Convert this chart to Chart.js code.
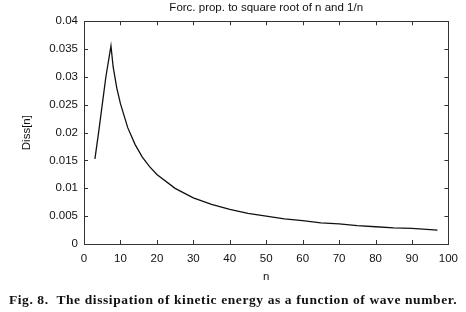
<!DOCTYPE html>
<html>
<head>
<meta charset="utf-8">
<script src="https://cdn.jsdelivr.net/npm/chart.js@4.4.0/dist/chart.umd.min.js"></script>
<style>
  html, body { margin: 0; padding: 0; background: #fff; }
  #wrap { width: 466px; height: 312px; position: relative; }
  #caption {
    position: absolute; left: 0; top: 292px; width: 466px; height: 16px;
    line-height: 16px; text-align: center; color: #111;
    font: bold 13.5px "Liberation Serif", "DejaVu Serif", serif;
    letter-spacing: 0.6px; white-space: pre;
  }
</style>
</head>
<body>
<div id="wrap"><canvas id="diss"></canvas><div id="caption"></div></div>
<script>
// 读图得到的数据
const nValues = [3, 4, 5, 6, 7.4, 8, 9, 10, 12, 14, 16, 18, 20, 25, 30, 35, 40, 45, 50, 55, 60, 65, 70, 75, 80, 85, 90, 95, 97];
const dissValues = [0.0153, 0.0200, 0.0250, 0.0300, 0.0356, 0.0318, 0.0280, 0.0252, 0.0209, 0.0179, 0.0156, 0.0139, 0.0125, 0.0100, 0.0083, 0.0071, 0.0062, 0.0055, 0.0050, 0.0045, 0.0042, 0.0038, 0.0036, 0.0033, 0.0031, 0.0029, 0.0028, 0.0026, 0.0025];
const xTicks = [0, 10, 20, 30, 40, 50, 60, 70, 80, 90, 100];
const yTicks = [0, 0.005, 0.01, 0.015, 0.02, 0.025, 0.03, 0.035, 0.04];

const titleText = 'Forc. prop. to square root of n and 1/n';
const captionText = 'Fig. 8.  The dissipation of kinetic energy as a function of wave number.';

const sansFont = '"Liberation Sans", Arial, sans-serif';

document.getElementById('caption').textContent = captionText;

// 画边框和向内的刻度（gnuplot 风格）
const frameTicks = {
    id: 'frameTicks',
    afterDatasetsDraw(chart) {
        const { ctx, chartArea: a, scales } = chart;
        const len = 4;
        ctx.save();
        ctx.strokeStyle = '#333';
        ctx.lineWidth = 1;
        ctx.beginPath();
        scales.x.ticks.forEach(t => {
            const px = Math.round(scales.x.getPixelForValue(t.value)) + 0.5;
            ctx.moveTo(px, a.bottom); ctx.lineTo(px, a.bottom - len);
            ctx.moveTo(px, a.top); ctx.lineTo(px, a.top + len);
        });
        scales.y.ticks.forEach(t => {
            const py = Math.round(scales.y.getPixelForValue(t.value)) + 0.5;
            ctx.moveTo(a.left, py); ctx.lineTo(a.left + len, py);
            ctx.moveTo(a.right, py); ctx.lineTo(a.right - len, py);
        });
        ctx.stroke();
        ctx.strokeRect(Math.round(a.left) + 0.5, Math.round(a.top) + 0.5,
            Math.round(a.right - a.left), Math.round(a.bottom - a.top));
        ctx.restore();
    }
};

const ctx = document.getElementById('diss').getContext('2d');
new Chart(ctx, {
    type: 'line',
    data: {
        datasets: [{
            data: nValues.map((n, i) => ({ x: n, y: dissValues[i] })),
            borderColor: '#111',
            borderWidth: 1.3,
            pointRadius: 0,
            tension: 0,
            fill: false
        }]
    },
    options: {
        responsive: true,
        maintainAspectRatio: false,
        animation: false,
        layout: { padding: { left: 0, right: 15, top: 0, bottom: 28 } },
        plugins: {
            legend: { display: false },
            tooltip: { enabled: false },
            title: {
                display: true,
                text: titleText,
                fullSize: false,
                color: '#111',
                font: { family: sansFont, size: 11.5, weight: 'normal' },
                padding: { top: 1, bottom: 6.5 }
            }
        },
        scales: {
            x: {
                type: 'linear',
                min: xTicks[0],
                max: xTicks[xTicks.length - 1],
                afterBuildTicks: s => { s.ticks = xTicks.map(v => ({ value: v })); },
                afterFit: s => { s.height = 40; },
                grid: { display: false, drawTicks: false },
                border: { display: false },
                ticks: { color: '#111', padding: 8, font: { family: sansFont, size: 11.5 } },
                title: { display: true, text: 'n', color: '#111', font: { family: sansFont, size: 11.5 }, padding: { top: 0, bottom: 0 } }
            },
            y: {
                type: 'linear',
                min: yTicks[0],
                max: yTicks[yTicks.length - 1],
                afterBuildTicks: s => { s.ticks = yTicks.map(v => ({ value: v })); },
                afterFit: s => { s.width = 84; },
                grid: { display: false, drawTicks: false },
                border: { display: false },
                ticks: {
                    color: '#111', padding: 6, font: { family: sansFont, size: 11.5 },
                    callback: v => String(Number(v.toFixed(4)))
                },
                title: { display: true, text: 'Diss[n]', color: '#111', font: { family: sansFont, size: 11.5 }, padding: { top: 20, bottom: 0 } }
            }
        }
    },
    plugins: [frameTicks]
});
</script>
</body>
</html>
